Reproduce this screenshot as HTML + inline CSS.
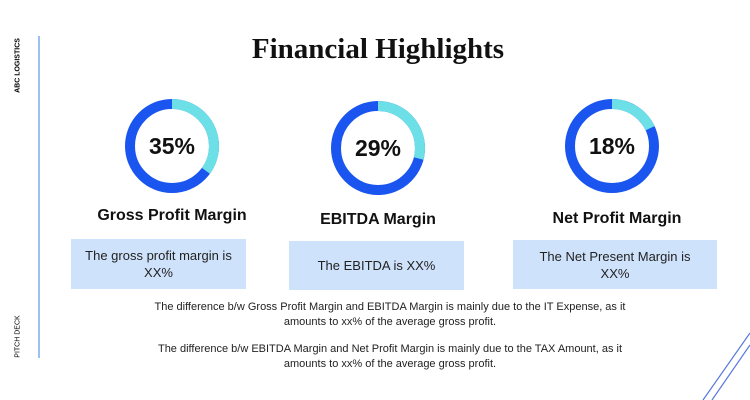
<!DOCTYPE html>
<html><head><meta charset="utf-8"><style>
body{margin:0;width:750px;height:400px;background:#fff;font-family:"Liberation Sans",sans-serif;overflow:hidden;position:relative}
.abs{position:absolute}
.lbl{font-weight:bold;font-size:16px;color:#111;text-align:center;width:240px}
.box{background:#cfe2fb;font-size:13px;color:#222;text-align:center;display:flex;align-items:center;justify-content:center;line-height:17px}
.para{font-size:11px;color:#222;text-align:center;width:580px;left:100px;line-height:15px}
</style></head><body>
<div class="abs" style="left:38px;top:36px;width:2px;height:322px;background:#9cc0f0"></div>
<div class="abs" style="left:-14px;top:62px;width:64px;font-size:7px;font-weight:bold;transform:rotate(-90deg);text-align:center">ABC LOGISTICS</div>
<div class="abs" style="left:-8px;top:333px;width:52px;font-size:7px;transform:rotate(-90deg);text-align:center">PITCH DECK</div>
<div class="abs" style="left:0;width:756px;top:33px;text-align:center;font-family:'Liberation Serif',serif;font-weight:bold;font-size:29px;color:#111">Financial Highlights</div>
<svg class="abs" style="left:0;top:0" width="750" height="400" id="svg">
<line x1="703" y1="400" x2="750" y2="333" stroke="#5577dd" stroke-width="1.2"/>
<line x1="712" y1="400" x2="750" y2="345" stroke="#5577dd" stroke-width="1.2"/>
</svg>
<div class="abs lbl" style="left:52px;top:207px">Gross Profit Margin</div>
<div class="abs lbl" style="left:258px;top:211px">EBITDA Margin</div>
<div class="abs lbl" style="left:497px;top:210px">Net Profit Margin</div>
<div class="abs box" style="left:71px;top:239px;width:175px;height:50px">The gross profit margin is<br>XX%</div>
<div class="abs box" style="left:289px;top:241px;width:175px;height:49px">The EBITDA is XX%</div>
<div class="abs box" style="left:513px;top:240px;width:204px;height:49px">The Net Present Margin is<br>XX%</div>
<div class="abs para" style="top:300px">The difference b/w Gross Profit Margin and EBITDA Margin is mainly due to the IT Expense, as it<br>amounts to xx% of the average gross profit.</div>
<div class="abs para" style="top:342px">The difference b/w EBITDA Margin and Net Profit Margin is mainly due to the TAX Amount, as it<br>amounts to xx% of the average gross profit.</div>
<script>
const categories=["Gross Profit Margin","EBITDA Margin","Net Profit Margin"];
const values=[35,29,18];
const centers=[[172,146],[378,148],[612,146]];
const svg=document.getElementById('svg');
const NS='http://www.w3.org/2000/svg';
const r=42, sw=10, C=2*Math.PI*r;
values.forEach((v,i)=>{
  const [cx,cy]=centers[i];
  const bg=document.createElementNS(NS,'circle');
  
  
  bg.setAttribute('cx',cx);bg.setAttribute('cy',cy);bg.setAttribute('r',r);
  bg.setAttribute('fill','none');bg.setAttribute('stroke','#1a55f0');bg.setAttribute('stroke-width',sw);
  svg.appendChild(bg);
  const arc=document.createElementNS(NS,'circle');
  
  
  arc.setAttribute('cx',cx);arc.setAttribute('cy',cy);arc.setAttribute('r',r);
  arc.setAttribute('fill','none');arc.setAttribute('stroke','#6ddfe6');arc.setAttribute('stroke-width',sw);
  arc.setAttribute('stroke-dasharray',(v/100*C)+' '+C);
  arc.setAttribute('transform','rotate(-90 '+cx+' '+cy+')');
  svg.appendChild(arc);
  const t=document.createElementNS(NS,'text');
  
  
  t.setAttribute('x',cx);t.setAttribute('y',cy+8);t.setAttribute('text-anchor','middle');
  t.setAttribute('font-size','23');t.setAttribute('font-weight','bold');t.setAttribute('fill','#111');
  t.setAttribute('font-family','Liberation Sans, sans-serif');
  t.textContent=v+'%';
  svg.appendChild(t);
});
</script>
</body></html>
